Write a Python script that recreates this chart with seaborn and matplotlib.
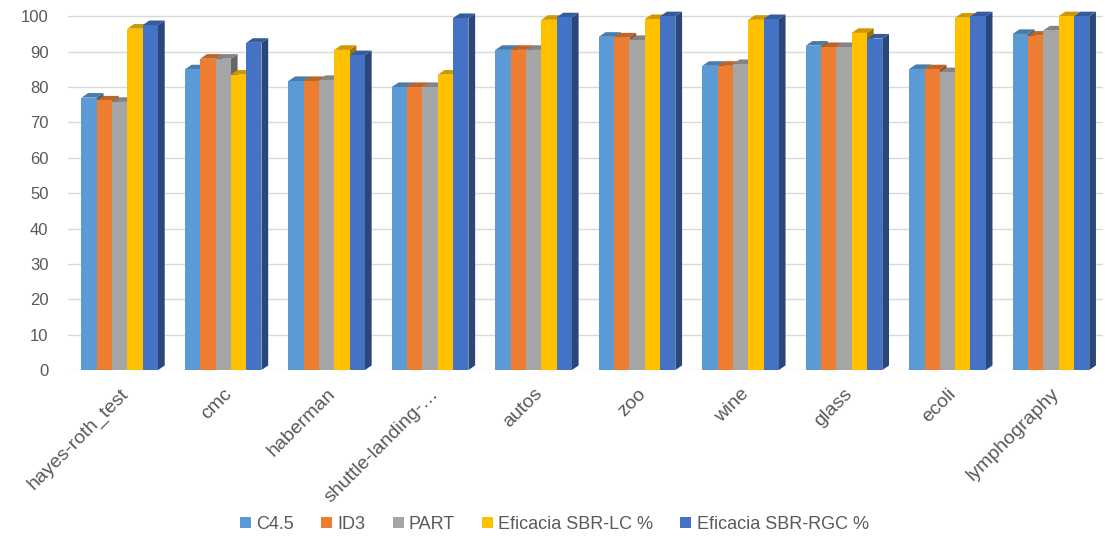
import numpy as np
import pandas as pd
import matplotlib
matplotlib.use("Agg")
import matplotlib.pyplot as plt
from matplotlib.patches import Polygon
from matplotlib.colors import to_rgb
import seaborn as sns

datasets = ["hayes-roth_test", "cmc", "haberman", "shuttle-landing-…", "autos",
            "zoo", "wine", "glass", "ecoli", "lymphography"]
series = ["C4.5", "ID3", "PART", "Eficacia SBR-LC %", "Eficacia SBR-RGC %"]

c45 = [77.0, 85.0, 81.7, 80.0, 90.5, 94.2, 86.0, 91.7, 85.1, 95.0]
id3 = [76.2, 88.0, 81.7, 80.0, 90.5, 94.0, 86.0, 91.3, 85.0, 94.5]
part = [75.8, 88.0, 82.0, 80.0, 90.5, 93.3, 86.5, 91.3, 84.2, 96.0]
sbr_lc = [96.5, 83.5, 90.5, 83.5, 99.0, 99.2, 99.0, 95.3, 99.6, 100.0]
sbr_rgc = [97.5, 92.5, 89.0, 99.5, 99.7, 100.0, 99.2, 93.7, 100.0, 100.0]

colors = ["#5B9BD5", "#ED7D31", "#A5A5A5", "#FFC000", "#4472C4"]

rows = []
for name, vals in zip(series, [c45, id3, part, sbr_lc, sbr_rgc]):
    for d, v in zip(datasets, vals):
        rows.append({"dataset": d, "serie": name, "valor": v})
df = pd.DataFrame(rows)

sns.set_theme(style="white")
plt.rcParams["font.family"] = ["Liberation Sans", "DejaVu Sans"]

fig = plt.figure(figsize=(11.09, 5.41), dpi=100)
ax = fig.add_axes([0.0613, 0.316, 0.933, 0.667])

sns.barplot(data=df, x="dataset", y="valor", hue="serie", order=datasets,
            hue_order=series, palette=colors, width=0.74, saturation=1,
            linewidth=0, ax=ax, zorder=3, legend=True)

# pseudo-3D: darker right side and top faces behind each front face
dx, dy = 0.065, 1.3
for patch in list(ax.patches):
    if not hasattr(patch, "get_x") or patch.get_height() <= 0:
        continue
    x0 = patch.get_x()
    x1 = x0 + patch.get_width()
    h = patch.get_height()
    base = np.array(to_rgb(patch.get_facecolor()))
    side = Polygon([(x1, 0), (x1 + dx, dy), (x1 + dx, h + dy), (x1, h)],
                   closed=True, facecolor=base * 0.62, edgecolor="none", zorder=2)
    top = Polygon([(x0, h), (x0 + dx, h + dy), (x1 + dx, h + dy), (x1, h)],
                  closed=True, facecolor=base * 0.8, edgecolor="none", zorder=2.5)
    ax.add_patch(side)
    ax.add_patch(top)

ax.set_xlim(-0.5, 9.5)
ax.set_ylim(0, 102)
ax.set_yticks(np.arange(0, 101, 10))
ax.yaxis.grid(True, color="#D9D9D9", linewidth=1.0, zorder=0)
ax.set_axisbelow(True)
for s in ax.spines.values():
    s.set_visible(False)
ax.set_xlabel("")
ax.set_ylabel("")
ax.tick_params(axis="y", labelsize=12, labelcolor="#595959", length=0, pad=14)
ax.tick_params(axis="x", labelsize=14, labelcolor="#595959", length=0, pad=11)
plt.setp(ax.get_xticklabels(), rotation=45, ha="right", rotation_mode="anchor")

handles, labels = ax.get_legend_handles_labels()
ax.get_legend().remove()
fig.legend(handles, labels, loc="lower center", bbox_to_anchor=(0.5, -0.015),
           ncol=5, frameon=False, fontsize=13, handlelength=0.6, handleheight=0.6,
           handletextpad=0.3, columnspacing=1.5, labelcolor="#595959")

fig.savefig("out.png", dpi=100)
